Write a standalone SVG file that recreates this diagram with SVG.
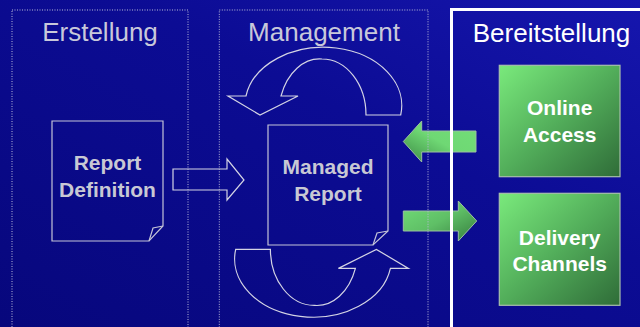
<svg xmlns="http://www.w3.org/2000/svg" width="640" height="327" viewBox="0 0 640 327">
  <defs>
    <linearGradient id="bg" x1="0" y1="1" x2="1" y2="0">
      <stop offset="0" stop-color="#07077c"/>
      <stop offset="0.6" stop-color="#0c0c94"/>
      <stop offset="1" stop-color="#1616ae"/>
    </linearGradient>
    <linearGradient id="gbox" x1="0" y1="0" x2="1" y2="1">
      <stop offset="0" stop-color="#7aea7c"/>
      <stop offset="0.5" stop-color="#52ad5a"/>
      <stop offset="1" stop-color="#2f6c38"/>
    </linearGradient>
    <linearGradient id="garrL" x1="0" y1="1" x2="1" y2="0">
      <stop offset="0" stop-color="#3c8a44"/>
      <stop offset="0.5" stop-color="#6fd874"/>
      <stop offset="1" stop-color="#72de78"/>
    </linearGradient>
    <linearGradient id="garrR" x1="0" y1="0" x2="1" y2="1">
      <stop offset="0" stop-color="#72de78"/>
      <stop offset="0.5" stop-color="#5fbf66"/>
      <stop offset="1" stop-color="#357c3e"/>
    </linearGradient>
    <path id="uturn" d="M400.7,115 A78,58 0 0,0 246,96 L228,96 L260,115 L298,96 L281,96 A41,56 0 0,1 322,59 A44,56 0 0,1 366,115 Z"/>
  </defs>
  <style>
    .outline { fill: none; stroke: #d4d4e4; stroke-width: 1.2; }
    .page { fill: none; stroke: #c4c4d8; stroke-width: 1.2; }
    .dotted { fill: none; stroke: #b8b8d8; stroke-width: 1; stroke-dasharray: 1 1.5; }
    .title { font-family: "Liberation Sans", Arial, sans-serif; font-size: 26px; fill: #c8c8da; text-anchor: middle; }
    .label { font-family: "Liberation Sans", Arial, sans-serif; font-size: 21px; font-weight: bold; fill: #c8c8d4; text-anchor: middle; }
    .glabel { font-family: "Liberation Sans", Arial, sans-serif; font-size: 21px; font-weight: bold; fill: #ffffff; text-anchor: middle; }
    .gbox { fill: url(#gbox); stroke: #a8c0ac; stroke-width: 1.2; }
    .garrow { stroke: #9cc0a0; stroke-width: 1; }
  </style>

  <rect x="0" y="0" width="640" height="327" fill="url(#bg)"/>

  <g id="connectors">
    <path id="arrow-def-managed" class="outline" d="M173,169 H227 V159 L244,180 L227,200 V190 H173 Z"/>
    <use id="cycle-top" href="#uturn" class="outline"/>
    <use id="cycle-bottom" href="#uturn" class="outline" transform="rotate(180 318.2 182.2)"/>
    <path id="arrow-online-managed" class="garrow" fill="url(#garrL)" d="M476,131 H421.7 V121 L403.3,141.5 L421.7,162 V152 H476 Z"/>
    <path id="arrow-managed-delivery" class="garrow" fill="url(#garrR)" d="M403.3,211 H458.3 V201 L476.7,221 L458.3,241 V231 H403.3 Z"/>
  </g>

  <g id="erstellung">
    <rect class="dotted" x="12" y="10" width="176" height="330"/>
    <text class="title" x="100" y="41">Erstellung</text>
  </g>

  <g id="management">
    <rect class="dotted" x="219.3" y="10" width="208.7" height="330"/>
    <text class="title" x="324" y="41">Management</text>
  </g>

  <g id="bereitstellung">
    <rect x="451.5" y="9.5" width="200" height="330" fill="none" stroke="#ffffff" stroke-width="3"/>
    <text class="title" x="551.5" y="42" style="fill:#ffffff">Bereitstellung</text>
  </g>

  <g id="report-definition">
    <path class="page" d="M52,121 H163 V226 L149,241 H52 Z"/>
    <path class="page" d="M149,241 L153,228 L163,226"/>
    <text class="label" x="107.5" y="170">Report</text>
    <text class="label" x="107.5" y="196.5">Definition</text>
  </g>

  <g id="managed-report">
    <path class="page" d="M268,125 H388 V231 L373,245 H268 Z"/>
    <path class="page" d="M373,245 L377,233 L388,231"/>
    <text class="label" x="328" y="174">Managed</text>
    <text class="label" x="328" y="200.5">Report</text>
  </g>

  <g id="online-access">
    <rect class="gbox" x="499.3" y="65.3" width="120.7" height="111.4"/>
    <text class="glabel" x="559.7" y="115">Online</text>
    <text class="glabel" x="559.7" y="141.7">Access</text>
  </g>

  <g id="delivery-channels">
    <rect class="gbox" x="499.3" y="193.3" width="120.7" height="112"/>
    <text class="glabel" x="559.7" y="245">Delivery</text>
    <text class="glabel" x="559.7" y="270.7">Channels</text>
  </g>
</svg>
